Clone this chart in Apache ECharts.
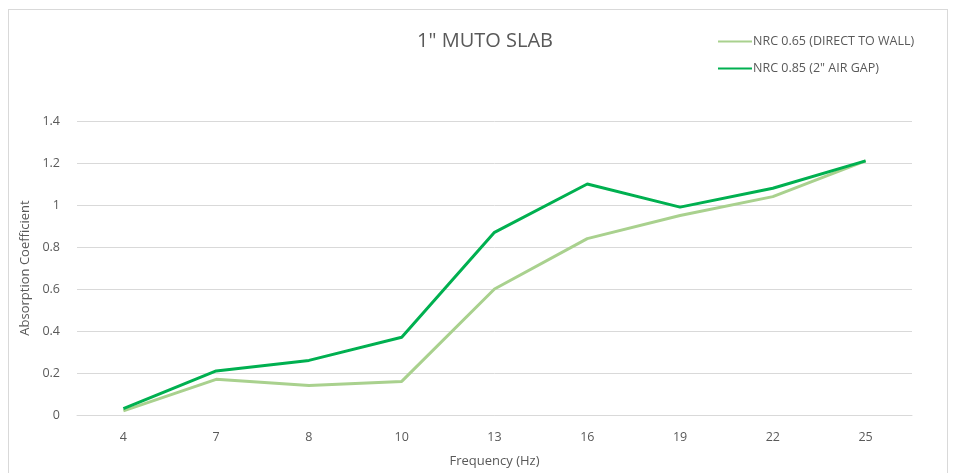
<!DOCTYPE html>
<html>
<head>
<meta charset="utf-8">
<title>1" MUTO SLAB</title>
<script src="https://cdn.jsdelivr.net/npm/echarts@6/dist/echarts.min.js"></script>
<style>
  html, body { margin: 0; padding: 0; background: #fff; overflow: hidden; }
  #frame {
    position: absolute; left: 8px; top: 9px; width: 940px; height: 480px;
    border: 1px solid #d9d9d9; box-sizing: border-box;
  }
  #chart { position: absolute; left: 0; top: 0; width: 954px; height: 473px; }
</style>
</head>
<body>
<div id="frame"></div>
<div id="chart"></div>
<script>
  // frequencies (Hz) on the x axis
  const frequencies = ['4', '7', '8', '10', '13', '16', '19', '22', '25'];
  // absorption coefficients
  const directToWall = [0.02, 0.17, 0.14, 0.16, 0.60, 0.84, 0.95, 1.04, 1.21];
  const airGap = [0.03, 0.21, 0.26, 0.37, 0.87, 1.10, 0.99, 1.08, 1.21];
  const seriesNames = ['NRC 0.65 (DIRECT TO WALL)', 'NRC 0.85 (2" AIR GAP)'];

  const font = '"Open Sans", "Noto Sans", sans-serif';
  const textColor = '#595959';

  const chart = echarts.init(document.getElementById('chart'));

  const option = {
    animation: false,
    title: {
      text: '1" MUTO SLAB',
      left: 480,
      textAlign: 'center',
      top: 26,
      textStyle: { fontFamily: font, fontSize: 20, fontWeight: 'normal', color: textColor },
    },
    legend: {
      orient: 'vertical',
      left: 718,
      top: 35,
      padding: 0,
      itemWidth: 34,
      itemHeight: 14,
      itemGap: 14,
      icon: 'path://M0,6 L34,6 L34,8 L0,8 Z',
      textStyle: { fontFamily: font, fontSize: 12.5, color: textColor, padding: [0, 0, 0, -4] },
      data: seriesNames,
    },
    grid: {
      left: 77,
      right: 42,
      top: 121,
      bottom: 57,
    },
    xAxis: {
      type: 'category',
      data: frequencies,
      boundaryGap: true,
      name: 'Frequency (Hz)',
      nameLocation: 'middle',
      nameGap: 40,
      nameTextStyle: { fontFamily: font, fontSize: 13, color: textColor },
      axisLine: { show: true, lineStyle: { color: '#d9d9d9' } },
      axisTick: { show: false },
      axisLabel: { fontFamily: font, fontSize: 12.5, color: textColor, margin: 16 },
    },
    yAxis: {
      type: 'value',
      min: 0,
      max: 1.4,
      interval: 0.2,
      name: 'Absorption Coefficient',
      nameLocation: 'middle',
      nameGap: 41,
      nameTextStyle: { fontFamily: font, fontSize: 13, color: textColor },
      axisLine: { show: false },
      axisTick: { show: false },
      axisLabel: {
        fontFamily: font, fontSize: 12.5, color: textColor, margin: 17,
        formatter: (v) => String(Math.round(v * 10) / 10),
      },
      splitLine: { lineStyle: { color: '#d9d9d9', width: 1 } },
    },
    series: [
      {
        name: seriesNames[0],
        type: 'line',
        data: directToWall,
        symbol: 'none',
        lineStyle: { width: 3, color: '#a9d18e' },
        itemStyle: { color: '#a9d18e' },
        z: 2,
      },
      {
        name: seriesNames[1],
        type: 'line',
        data: airGap,
        symbol: 'none',
        lineStyle: { width: 3, color: '#00b050' },
        itemStyle: { color: '#00b050' },
        z: 3,
      },
    ],
  };

  chart.setOption(option);
  window.addEventListener('resize', () => chart.resize());
</script>
</body>
</html>
